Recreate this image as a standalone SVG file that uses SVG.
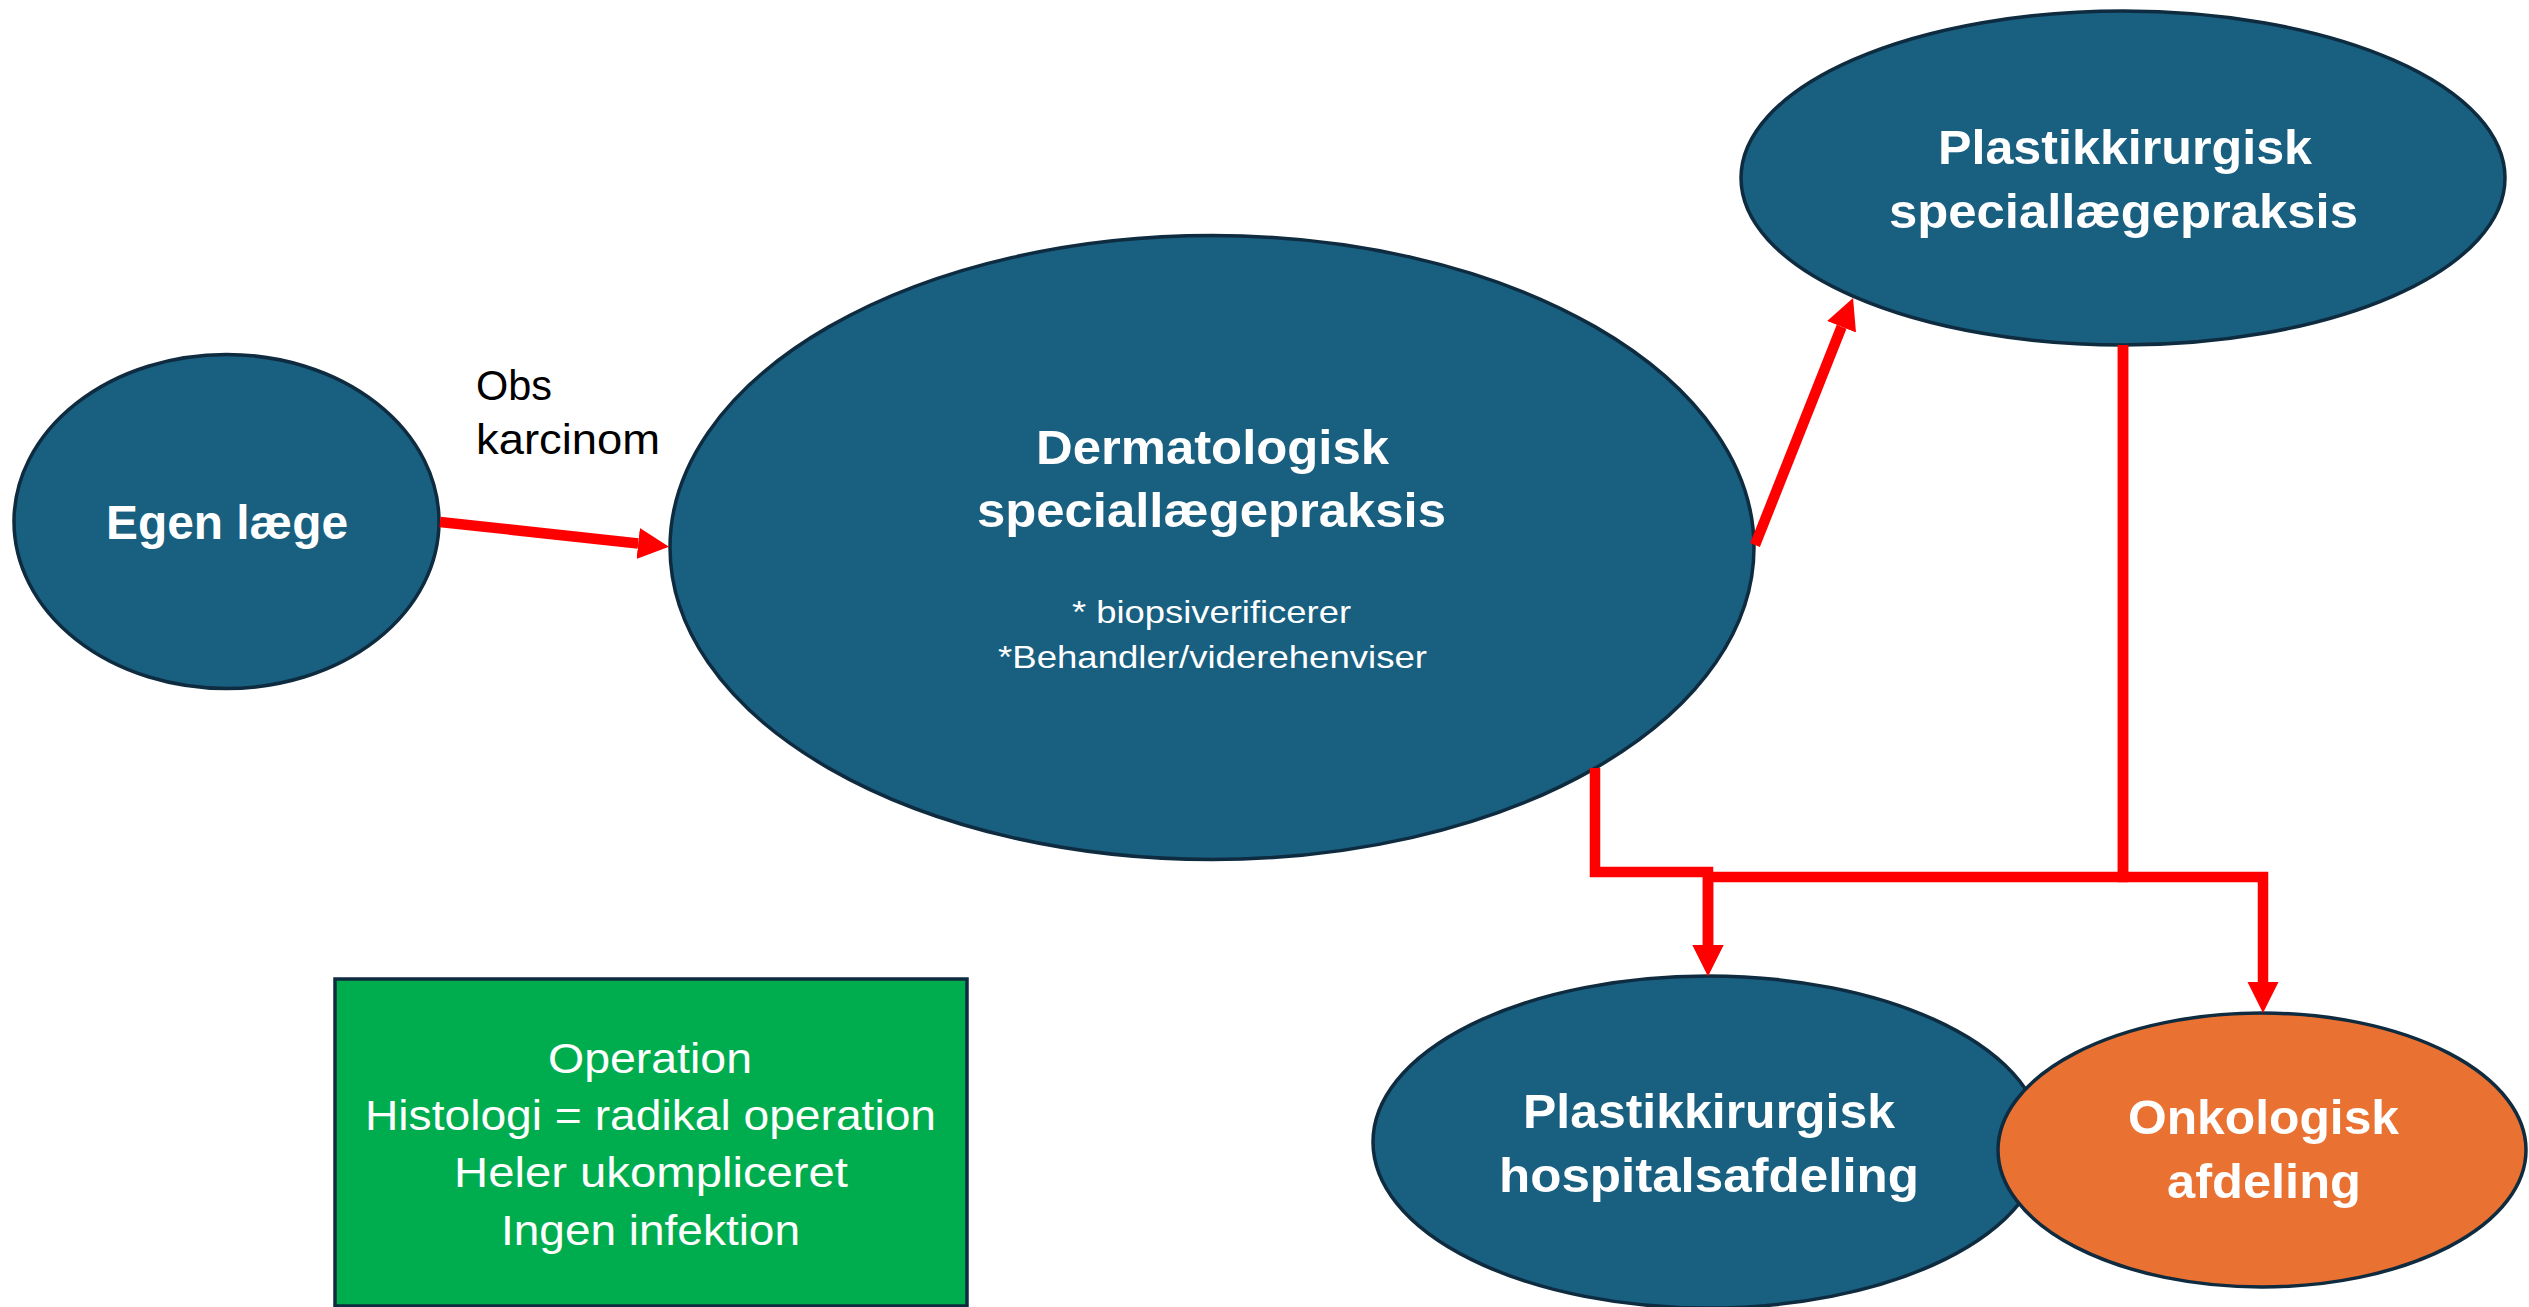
<svg xmlns="http://www.w3.org/2000/svg" width="2529" height="1307" viewBox="0 0 2529 1307">
<style>
.node{stroke:#0E2B3F;stroke-width:3.5}
.blue{fill:#185F80}
.orange{fill:#E97132}
.green{fill:#00AD4E;stroke:#0E2B3F;stroke-width:3.5}
.b{font-family:"Liberation Sans",Arial,sans-serif;font-weight:bold;font-size:48px;fill:#fff}
.r{font-family:"Liberation Sans",Arial,sans-serif;font-size:42px}
.s{font-family:"Liberation Sans",Arial,sans-serif;font-size:32px;fill:#fff}
.w{fill:#fff}
.k{fill:#000}
.c{fill:none;stroke:#FF0000;stroke-width:10.5;stroke-linecap:butt;stroke-linejoin:miter}
</style>
<defs>
<marker id="ah" viewBox="0 0 32 32" refX="0" refY="16" markerWidth="32" markerHeight="32" markerUnits="userSpaceOnUse" orient="auto">
<path d="M0,0.5 L31,16 L0,31.5 z" fill="#FF0000"/>
</marker>
</defs>
<rect width="2529" height="1307" fill="#fff"/>

<g id="egen">
<ellipse class="node blue" cx="226.5" cy="521.5" rx="212.5" ry="167"/>
<text class="b" x="106" y="539" textLength="242" lengthAdjust="spacingAndGlyphs">Egen læge</text>
</g>

<g id="derm">
<ellipse class="node blue" cx="1212" cy="547.5" rx="542" ry="312"/>
<text class="b" x="1036" y="464" textLength="353" lengthAdjust="spacingAndGlyphs">Dermatologisk</text>
<text class="b" x="977" y="527" textLength="469" lengthAdjust="spacingAndGlyphs">speciallægepraksis</text>
<text class="s" x="1072" y="623" textLength="279" lengthAdjust="spacingAndGlyphs">* biopsiverificerer</text>
<text class="s" x="998" y="668" textLength="429" lengthAdjust="spacingAndGlyphs">*Behandler/viderehenviser</text>
</g>

<g id="plastik-praksis">
<ellipse class="node blue" cx="2123" cy="178" rx="382" ry="167"/>
<text class="b" x="1938" y="164" textLength="374" lengthAdjust="spacingAndGlyphs">Plastikkirurgisk</text>
<text class="b" x="1889" y="228" textLength="469" lengthAdjust="spacingAndGlyphs">speciallægepraksis</text>
</g>

<g id="plastik-hospital">
<ellipse class="node blue" cx="1708" cy="1142" rx="335" ry="166"/>
<text class="b" x="1523" y="1128" textLength="372" lengthAdjust="spacingAndGlyphs">Plastikkirurgisk</text>
<text class="b" x="1499" y="1192" textLength="420" lengthAdjust="spacingAndGlyphs">hospitalsafdeling</text>
</g>

<g id="onkologisk">
<ellipse class="node orange" cx="2262" cy="1150" rx="264" ry="137"/>
<text class="b" x="2128" y="1134" textLength="271" lengthAdjust="spacingAndGlyphs">Onkologisk</text>
<text class="b" x="2167" y="1198" textLength="194" lengthAdjust="spacingAndGlyphs">afdeling</text>
</g>

<g id="criteria">
<rect class="green" x="335" y="979" width="632" height="327"/>
<text class="r w" x="548" y="1073" textLength="204" lengthAdjust="spacingAndGlyphs">Operation</text>
<text class="r w" x="365" y="1130" textLength="571" lengthAdjust="spacingAndGlyphs">Histologi = radikal operation</text>
<text class="r w" x="454" y="1187" textLength="394" lengthAdjust="spacingAndGlyphs">Heler ukompliceret</text>
<text class="r w" x="501" y="1245" textLength="299" lengthAdjust="spacingAndGlyphs">Ingen infektion</text>
</g>

<g id="connectors">
<path class="c" d="M440,522 L638.2,543.5" marker-end="url(#ah)"/>
<path class="c" d="M1755,545 L1841.6,326.8" marker-end="url(#ah)"/>
<path class="c" d="M1595,768 V872 H1708 V945" marker-end="url(#ah)"/>
<path class="c" d="M2123,345 V877 H1708 V945" marker-end="url(#ah)"/>
<path class="c" d="M2123,345 V877 H2263 V982" marker-end="url(#ah)"/>
<text class="r k" x="476" y="400" textLength="76" lengthAdjust="spacingAndGlyphs">Obs</text>
<text class="r k" x="476" y="454" textLength="184" lengthAdjust="spacingAndGlyphs">karcinom</text>
</g>
</svg>
